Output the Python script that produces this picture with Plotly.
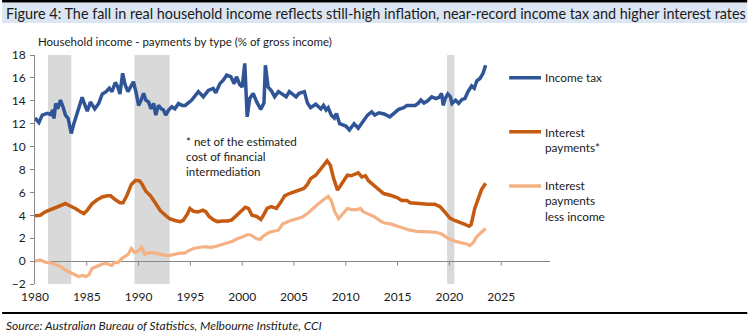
import plotly.graph_objects as go

# ---- data (% of gross household income) ----
tax_years = [1980.0, 1980.38, 1980.7, 1981.18, 1981.5, 1981.73, 1981.83, 1982.0, 1982.2, 1982.46,
             1982.7, 1982.94, 1983.2, 1983.5, 1983.75, 1984.16, 1984.55, 1984.87, 1985.05, 1985.35,
             1985.77, 1986.15, 1986.5, 1986.86, 1987.17, 1987.43, 1987.75, 1988.0, 1988.2, 1988.46,
             1988.7, 1988.97, 1989.2, 1989.5, 1989.74, 1990.0, 1990.25, 1990.48, 1990.7, 1990.96,
             1991.2, 1991.45, 1991.66, 1991.92, 1992.2, 1992.4, 1992.62, 1992.9, 1993.2, 1993.5,
             1993.85, 1994.2, 1994.5, 1994.8, 1995.13, 1995.77, 1996.25, 1996.73, 1997.2, 1997.45,
             1997.85, 1998.17, 1998.5, 1998.9, 1999.23, 1999.45, 1999.77, 2000.0, 2000.25, 2000.48,
             2000.73, 2001.06, 2001.4, 2001.79, 2002.1, 2002.24, 2002.5, 2002.8, 2003.13, 2003.5,
             2003.9, 2004.25, 2004.55, 2004.9, 2005.2, 2005.5, 2006.0, 2006.3, 2006.6, 2007.1,
             2007.6, 2007.85, 2008.1, 2008.3, 2008.6, 2008.9, 2009.1, 2009.4, 2009.7, 2010.0,
             2010.35, 2010.8, 2011.2, 2011.6, 2012.1, 2012.5, 2012.8, 2013.2, 2013.7, 2014.25,
             2014.65, 2015.1, 2015.6, 2015.9, 2016.4, 2016.7, 2017.0, 2017.25, 2017.55, 2017.9,
             2018.3, 2018.7, 2019.0, 2019.25, 2019.4, 2019.6, 2019.85, 2020.1, 2020.25, 2020.6,
             2020.9, 2021.2, 2021.5, 2021.8, 2022.15, 2022.4, 2022.65, 2022.95, 2023.25, 2023.5]
income_tax = [12.5, 12.1, 12.75, 12.9, 12.8, 13.2, 12.46, 13.77, 13.3, 14.06,
              13.48, 12.75, 12.46, 11.15, 12.0, 13.2, 14.3, 13.5, 13.1, 13.9,
              13.3, 13.77, 14.6, 14.8, 15.1, 14.8, 15.6, 15.2, 14.6, 16.4,
              15.4, 14.8, 15.2, 15.66, 14.8, 13.6, 14.06, 14.65, 14.06, 13.9,
              13.3, 13.77, 12.75, 13.6, 13.3, 13.2, 12.75, 13.2, 13.48, 13.3,
              13.77, 13.6, 13.6, 13.8, 14.06, 14.8, 14.35, 14.9, 15.08, 14.7,
              15.5, 15.8, 16.24, 16.1, 15.5, 16.1, 15.4, 15.2, 17.27, 12.6,
              14.2, 14.65, 13.9, 13.25, 13.8, 17.1, 15.2, 14.9, 14.35, 14.8,
              14.6, 14.35, 14.8, 14.6, 14.35, 14.65, 14.8, 13.8, 13.4, 13.7,
              13.3, 13.6, 13.2, 13.4, 12.75, 12.5, 12.9, 12.0, 11.9, 11.8,
              11.45, 12.0, 11.6, 12.1, 12.75, 13.04, 12.75, 12.95, 12.85, 12.6,
              12.95, 13.25, 13.4, 13.6, 13.6, 13.6, 13.8, 14.06, 13.8, 14.0,
              14.35, 14.2, 14.3, 14.65, 13.6, 14.2, 14.6, 14.35, 13.77, 14.06,
              13.77, 14.1, 14.2, 14.8, 15.3, 15.1, 15.75, 15.95, 16.4, 17.1]

int_years = [1980.0, 1980.5, 1981.0, 1981.5, 1982.0, 1982.46, 1982.94, 1983.2, 1983.5, 1983.9,
             1984.4, 1984.7, 1985.0, 1985.5, 1986.0, 1986.5, 1987.0, 1987.3, 1987.7, 1988.2,
             1988.5, 1988.9, 1989.3, 1989.7, 1990.1, 1990.35, 1990.7, 1991.15, 1991.6, 1992.1,
             1992.6, 1993.0, 1993.5, 1994.0, 1994.3, 1994.7, 1994.95, 1995.3, 1995.75, 1996.2,
             1996.5, 1996.8, 1997.25, 1997.6, 1998.1, 1998.6, 1999.0, 1999.5, 2000.0, 2000.3,
             2000.6, 2000.95, 2001.4, 2001.8, 2002.05, 2002.4, 2002.8, 2003.3, 2003.75, 2004.1,
             2004.55, 2005.0, 2005.5, 2005.95, 2006.3, 2006.6, 2007.1, 2007.4, 2007.85, 2008.2,
             2008.5, 2008.8, 2009.2, 2009.5, 2009.9, 2010.15, 2010.5, 2010.9, 2011.2, 2011.55,
             2011.9, 2012.2, 2012.7, 2013.2, 2013.65, 2014.3, 2014.95, 2015.4, 2015.9, 2016.2,
             2016.7, 2017.3, 2017.95, 2018.6, 2019.1, 2019.55, 2020.05, 2020.5, 2021.0, 2021.5,
             2021.9, 2022.1, 2022.45, 2022.8, 2023.1, 2023.5]
interest = [3.96, 4.0, 4.3, 4.5, 4.7, 4.9, 5.03, 4.9, 4.8, 4.6,
            4.3, 4.15, 4.4, 5.0, 5.35, 5.6, 5.7, 5.7, 5.4, 5.1,
            5.1, 5.8, 6.7, 7.05, 7.0, 6.7, 6.1, 5.7, 5.1, 4.4,
            4.0, 3.7, 3.55, 3.45, 3.55, 4.1, 4.6, 4.35, 4.3, 4.45,
            4.3, 3.9, 3.6, 3.45, 3.5, 3.5, 3.6, 4.0, 4.45, 4.7,
            4.6, 4.0, 3.9, 3.64, 4.0, 4.6, 4.75, 4.6, 5.18, 5.7,
            5.9, 6.05, 6.25, 6.35, 6.7, 7.2, 7.5, 7.85, 8.3, 8.75,
            8.4, 7.3, 6.2, 6.6, 7.05, 7.5, 7.45, 7.6, 7.7, 7.35,
            7.45, 7.0, 6.6, 6.2, 5.9, 5.75, 5.55, 5.3, 5.3, 5.1,
            5.05, 5.0, 4.96, 4.96, 4.75, 4.3, 3.75, 3.55, 3.4, 3.2,
            3.04, 3.2, 4.6, 5.6, 6.25, 6.8]

net_years = [1980.0, 1980.5, 1981.0, 1981.5, 1982.0, 1982.5, 1982.95, 1983.4, 1983.9, 1984.2,
             1984.6, 1984.9, 1985.2, 1985.5, 1986.0, 1986.5, 1986.9, 1987.4, 1987.7, 1988.0,
             1988.35, 1988.6, 1989.0, 1989.3, 1989.6, 1990.0, 1990.3, 1990.6, 1991.1, 1991.6,
             1992.1, 1992.6, 1993.0, 1993.5, 1994.0, 1994.45, 1994.8, 1995.3, 1995.75, 1996.25,
             1996.55, 1997.0, 1997.5, 1998.1, 1998.6, 1999.0, 1999.5, 2000.0, 2000.5, 2000.8,
             2001.1, 2001.4, 2001.75, 2002.05, 2002.5, 2002.8, 2003.5, 2003.9, 2004.55, 2005.2,
             2005.8, 2006.3, 2006.8, 2007.3, 2007.75, 2008.3, 2008.6, 2008.9, 2009.3, 2009.7,
             2010.15, 2010.6, 2011.1, 2011.4, 2011.7, 2012.2, 2012.7, 2013.2, 2013.65, 2014.3,
             2014.95, 2015.55, 2016.2, 2016.85, 2017.5, 2018.1, 2018.75, 2019.2, 2019.7, 2020.2,
             2020.7, 2021.15, 2021.65, 2021.95, 2022.3, 2022.65, 2023.1, 2023.5]
interest_less_income = [0.0, 0.1, -0.1, -0.15, -0.3, -0.5, -0.8, -1.0, -1.2, -1.35,
                        -1.25, -1.35, -1.2, -0.65, -0.45, -0.25, -0.2, -0.4, -0.1, -0.15,
                        0.2, 0.35, 0.6, 1.1, 0.75, 0.9, 1.2, 0.6, 0.75, 0.7,
                        0.6, 0.5, 0.5, 0.6, 0.7, 0.7, 0.9, 1.1, 1.2, 1.25,
                        1.25, 1.2, 1.3, 1.5, 1.6, 1.7, 1.95, 2.1, 2.3, 2.3,
                        2.1, 1.95, 1.9, 2.2, 2.45, 2.56, 2.7, 3.23, 3.5, 3.65,
                        3.85, 4.15, 4.6, 4.96, 5.3, 5.65, 5.3, 4.4, 3.7, 4.15,
                        4.6, 4.5, 4.5, 4.6, 4.3, 4.1, 3.9, 3.6, 3.35, 3.25,
                        3.06, 2.85, 2.7, 2.6, 2.6, 2.56, 2.5, 2.4, 2.1, 1.85,
                        1.7, 1.6, 1.5, 1.35, 1.6, 2.15, 2.56, 2.85]

# recession periods shaded in grey
recession_start = [1981.25, 1989.6, 2019.78]
recession_end = [1983.5, 1993.0, 2020.48]

year_ticks = [1980, 1985, 1990, 1995, 2000, 2005, 2010, 2015, 2020, 2025]
value_ticks = [-2, 0, 2, 4, 6, 8, 10, 12, 14, 16, 18]

series_names = ["Income tax", "Interest<br>payments*", "Interest<br>payments<br>less income"]
series_colors = ["#2f5597", "#c55a11", "#f4b183"]

# ---- page geometry ----
W, H = 748, 335
ML, MR, MT, MB = 33, 198, 55, 51
PW, PH = W - ML - MR, H - MT - MB


def fx(px):
    return (px - ML) / PW


def fy(py):
    return (H - MB - py) / PH


FONT = "Lato"
TXT = "#1a1a1a"
AXIS = "#868686"

fig = go.Figure()

for yrs, vals, name, col, w in [
    (tax_years, income_tax, series_names[0], series_colors[0], 3.5),
    (int_years, interest, series_names[1], series_colors[1], 3.5),
    (net_years, interest_less_income, series_names[2], series_colors[2], 3.2),
]:
    fig.add_trace(go.Scatter(x=yrs, y=vals, mode="lines", name=name,
                             line=dict(color=col, width=w), showlegend=False,
                             hoverinfo="skip"))

shapes = []
for a, b in zip(recession_start, recession_end):
    shapes.append(dict(type="rect", xref="x", yref="y", x0=a, x1=b,
                       y0=value_ticks[0], y1=value_ticks[-1],
                       fillcolor="#d9d9d9", line_width=0, layer="below"))
# small tick marks hanging from the zero line
for t in year_ticks[1:]:
    shapes.append(dict(type="line", xref="x", yref="y", x0=t, x1=t, y0=0, y1=-0.4,
                       line=dict(color=AXIS, width=1)))
# title band, top rule and bottom rule
shapes += [
    dict(type="rect", xref="paper", yref="paper", x0=fx(0), x1=fx(W), y0=fy(23), y1=fy(3),
         fillcolor="#dce6f2", line_width=0, layer="below"),
    dict(type="rect", xref="paper", yref="paper", x0=fx(0), x1=fx(W), y0=fy(2.5), y1=fy(0),
         fillcolor="#000000", line_width=0),
    dict(type="rect", xref="paper", yref="paper", x0=fx(0), x1=fx(W), y0=fy(314), y1=fy(312),
         fillcolor="#000000", line_width=0),
]
# legend keys
legend_rows = [77.7, 131.7, 186]
for py, col in zip(legend_rows, series_colors):
    shapes.append(dict(type="line", xref="paper", yref="paper", x0=fx(509), x1=fx(541),
                       y0=fy(py), y1=fy(py), line=dict(color=col, width=3.5)))

annotations = [
    dict(text="Figure 4: The fall in real household income reflects still-high inflation, "
              "near-record income tax and higher interest rates",
         x=fx(2), y=fy(13), xanchor="left", yanchor="middle",
         font=dict(family=FONT, size=14.4, color=TXT)),
    dict(text="Household income - payments by type (% of gross income)",
         x=fx(34), y=fy(41.5), xanchor="left", yanchor="middle",
         font=dict(family=FONT, size=11.5, color=TXT)),
    dict(text="* net of the estimated<br>cost of financial<br>intermediation",
         x=fx(183), y=fy(156), xanchor="left", yanchor="middle", align="left",
         font=dict(family=FONT, size=11.6, color=TXT)),
    dict(text="<i>Source: Australian Bureau of Statistics, Melbourne Institute, CCI</i>",
         x=fx(2), y=fy(325), xanchor="left", yanchor="middle",
         font=dict(family=FONT, size=12, color=TXT)),
]
legend_text_centres = [77.7, 139.7, 201]
for py, name in zip(legend_text_centres, series_names):
    annotations.append(dict(text=name, x=fx(543), y=fy(py), xanchor="left", yanchor="middle",
                            align="left", font=dict(family=FONT, size=11.8, color=TXT)))
for a in annotations:
    a.update(xref="paper", yref="paper", showarrow=False)

fig.update_layout(
    width=W, height=H, margin=dict(l=ML, r=MR, t=MT, b=MB),
    paper_bgcolor="white", plot_bgcolor="white",
    shapes=shapes, annotations=annotations,
    font=dict(family=FONT, size=12, color=TXT),
    xaxis=dict(range=[1980, 1980 + PW / 10.4], tickvals=year_ticks, ticks="",
               showline=False, showgrid=False, zeroline=False,
               tickfont=dict(family=FONT, size=12, color=TXT), ticklabelstandoff=4),
    yaxis=dict(range=[-2, 18], tickvals=value_ticks, ticks="outside", ticklen=4,
               tickcolor=AXIS, showline=True, linecolor=AXIS, linewidth=1,
               showgrid=False, zeroline=True, zerolinecolor=AXIS, zerolinewidth=1,
               tickfont=dict(family=FONT, size=12, color=TXT), ticklabelstandoff=2),
)

fig.write_html("out.html")
